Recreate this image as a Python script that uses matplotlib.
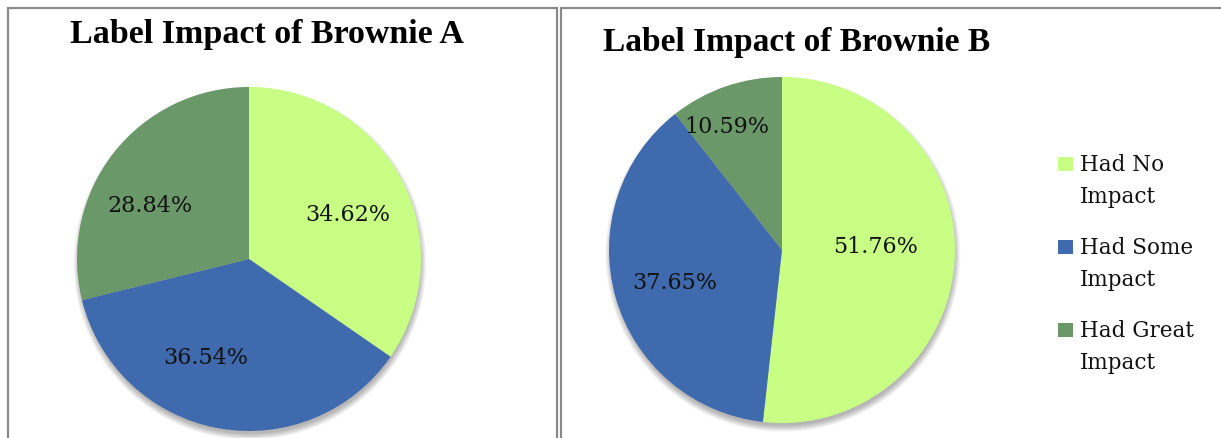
import matplotlib
matplotlib.use("Agg")
import matplotlib.pyplot as plt
import matplotlib.patches as mpatches
import numpy as np

plt.rcParams["font.family"] = ["DejaVu Serif"]

# ── Data ────────────────────────────────────────────────────────────────────
CATEGORIES = ["Had No Impact", "Had Some Impact", "Had Great Impact"]
LEGEND_LABELS = ["Had No\nImpact", "Had Some\nImpact", "Had Great\nImpact"]
BROWNIE_A = [34.62, 36.54, 28.84]
BROWNIE_B = [51.76, 37.65, 10.59]
TITLES = ["Label Impact of Brownie A", "Label Impact of Brownie B"]

COLORS = ["#C8FE84", "#3F6AAE", "#6A9869"]

W, H = 1221, 438


def px_axes(fig, cx, cy, r):
    """Square axes of radius r px around (cx, cy), y measured from top."""
    return fig.add_axes([(cx - r) / W, (H - cy - r) / H, 2 * r / W, 2 * r / H])


def draw_pie(ax, values, label_r, label_shift):
    # soft drop shadow, mostly below the pie
    for i in range(10):
        ax.add_patch(mpatches.Circle((0.005, -0.025), 0.99 + 0.004 * i,
                                     color="black", alpha=0.03, lw=0, zorder=0))
    wedges, _ = ax.pie(values, colors=COLORS, startangle=90, counterclock=False,
                       radius=1.0, wedgeprops=dict(lw=0, zorder=2))
    for w, v, rr, sh in zip(wedges, values, label_r, label_shift):
        ang = np.deg2rad((w.theta1 + w.theta2) / 2 + sh)
        ax.text(rr * np.cos(ang), rr * np.sin(ang), f"{v:.2f}%",
                ha="center", va="center", fontsize=16, color="#111111", zorder=3)
    ax.set_xlim(-1.06, 1.06)
    ax.set_ylim(-1.06, 1.06)
    ax.axis("off")


fig = plt.figure(figsize=(W / 100, H / 100), dpi=100)

# panel frames
for x0, x1 in [(8, 557), (561, 1240)]:
    fig.patches.append(mpatches.Rectangle((x0 / W, -0.1), (x1 - x0) / W, (H - 8) / H + 0.1,
                                          transform=fig.transFigure, fill=False,
                                          ec="#8a8a8a", lw=1.6))

ax_a = px_axes(fig, 249, 259, 172 * 1.06)
draw_pie(ax_a, BROWNIE_A, [0.63, 0.63, 0.65], [-4, -13, 10])

ax_b = px_axes(fig, 782, 250, 173 * 1.06)
draw_pie(ax_b, BROWNIE_B, [0.54, 0.65, 0.78], [5, 1, 5])

title_font = ["Liberation Serif", "DejaVu Serif"]
fig.text(267 / W, 1 - 34 / H, TITLES[0], ha="center", va="center",
         fontsize=24.5, fontweight="bold", family=title_font)
fig.text(603 / W, 1 - 42 / H, TITLES[1], ha="left", va="center",
         fontsize=24, fontweight="bold", family=title_font)

# legend
for i, (lab, col) in enumerate(zip(LEGEND_LABELS, COLORS)):
    yc = 164 + 83 * i
    fig.patches.append(mpatches.Rectangle((1058 / W, 1 - (yc + 7) / H), 15 / W, 14 / H,
                                          transform=fig.transFigure, color=col, lw=0))
    fig.text(1080 / W, 1 - (yc - 10) / H, lab, ha="left", va="top",
             fontsize=15.5, linespacing=1.6, color="#111111")

fig.savefig("out.png", dpi=100)
